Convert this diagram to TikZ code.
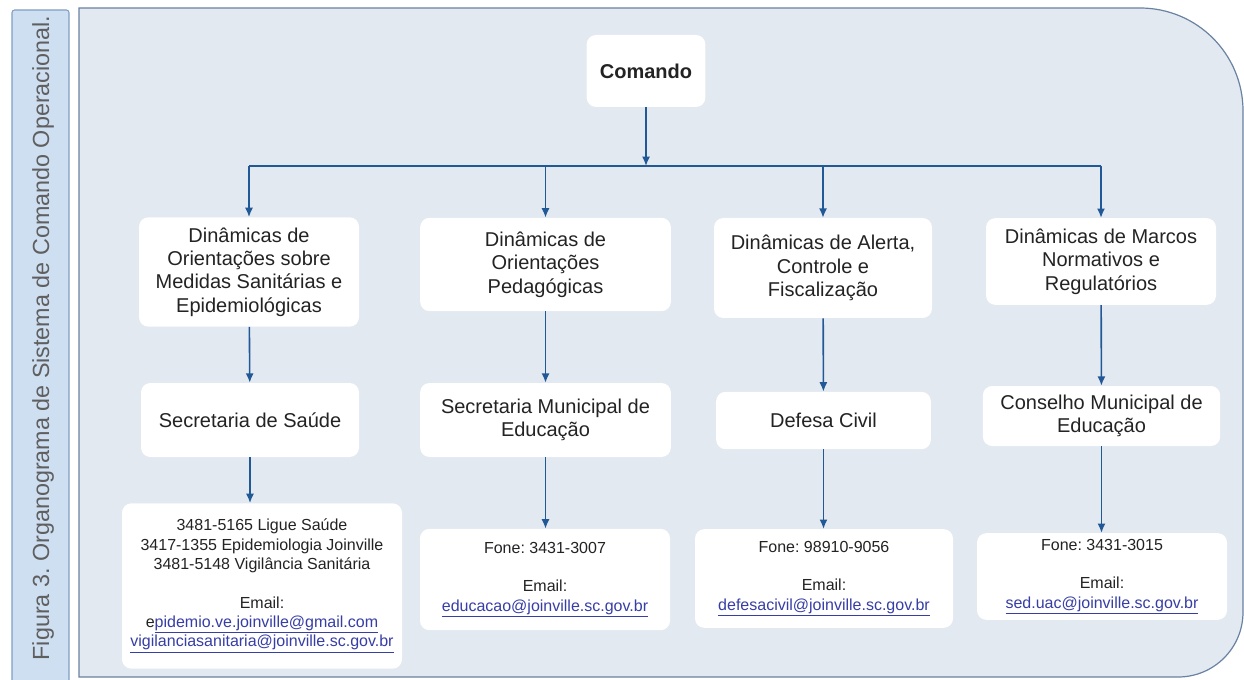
\documentclass[tikz,border=0pt]{standalone}
\usepackage{fontspec}
\setmainfont{Liberation Sans}
\usetikzlibrary{arrows.meta,positioning,calc}

\definecolor{panel}{RGB}{226,233,241}
\definecolor{panelline}{RGB}{105,130,162}
\definecolor{capfill}{RGB}{207,223,242}
\definecolor{capline}{RGB}{128,158,195}
\definecolor{capgray}{RGB}{95,95,95}
\definecolor{flowblue}{RGB}{33,88,150}
\definecolor{txt}{RGB}{35,35,35}
\definecolor{linkblue}{RGB}{55,62,165}
\newcommand{\mail}[1]{\textcolor{linkblue}{\underline{#1}}}
\frenchspacing

\begin{document}
\begin{tikzpicture}[>={Latex[length=7pt,width=6pt]}, x=0.75pt, y=-0.75pt,
  box/.style={fill=white, rounded corners=7pt, align=center, inner sep=0pt,
    text=txt, font=\fontsize{15}{17.5}\selectfont},
  info/.style={box, font=\fontsize{12}{14.5}\selectfont},
  flow/.style={->, draw=flowblue, line width=1.2pt}]
  \useasboundingbox (0,0) rectangle (1244,680);

  % caption strip and panel
  \draw[fill=capfill, draw=capline, line width=0.8pt, rounded corners=2pt] (12,10) rectangle (69,700);
  \node[rotate=90, text=capgray, font=\fontsize{17.5}{20}\selectfont] (cap) at (43,338)
    {Figura 3. Organograma de Sistema de Comando Operacional.};
  \draw[fill=panel, draw=panelline, line width=0.9pt] (79,8) -- (1140,8)
    .. controls (1197,8) and (1243,54) .. (1243,111) -- (1243,612)
    .. controls (1243,648) and (1214,677) .. (1178,677) -- (79,677) -- cycle;

  \node[box, font=\fontsize{15}{17.5}\selectfont\bfseries, minimum width=89pt, minimum height=54pt] (cmd) at (646,71) {Comando};

  \node[box, minimum width=165pt, minimum height=82pt] (d1) at (249,272) {Dinâmicas de\\Orientações sobre\\Medidas Sanitárias e\\Epidemiológicas};
  \node[box, minimum width=188pt, minimum height=70pt] (d2) at (545.5,264.5) {Dinâmicas de\\Orientações\\Pedagógicas};
  \node[box, minimum width=163.5pt, minimum height=75pt] (d3) at (823,268) {Dinâmicas de Alerta,\\Controle e\\Fiscalização};
  \node[box, minimum width=172.5pt, minimum height=65pt] (d4) at (1101,261.5) {Dinâmicas de Marcos\\Normativos e\\Regulatórios};

  \node[box, minimum width=163.5pt, minimum height=55.5pt] (s1) at (250,420) {Secretaria de Saúde};
  \node[box, minimum width=188pt, minimum height=55.5pt] (s2) at (545.5,420) {Secretaria Municipal de\\Educação};
  \node[box, minimum width=161pt, minimum height=43pt] (s3) at (823.5,420.5) {Defesa Civil};
  \node[box, minimum width=178pt, minimum height=45pt] (s4) at (1101.5,416) {Conselho Municipal de\\Educação};

  \node[info, minimum width=210pt, minimum height=124pt] (c1) at (262,586) {3481-5165 Ligue Saúde\\3417-1355 Epidemiologia Joinville\\3481-5148 Vigilância Sanitária\\[14.5pt]Email:\\e\mail{pidemio.ve.joinville@gmail.com}\\\mail{vigilanciasanitaria@joinville.sc.gov.br}};
  \node[info, minimum width=187.5pt, minimum height=76pt] (c2) at (545,579.5) {Fone: 3431-3007\\[14.5pt]Email:\\\mail{educacao@joinville.sc.gov.br}};
  \node[info, minimum width=193.5pt, minimum height=74pt] (c3) at (824,578.5) {Fone: 98910-9056\\[14.5pt]Email:\\\mail{defesacivil@joinville.sc.gov.br}};
  \node[info, minimum width=187.5pt, minimum height=65pt] (c4) at (1102,576.5) {Fone: 3431-3015\\[14.5pt]Email:\\\mail{sed.uac@joinville.sc.gov.br}};

  \coordinate (bus) at (646,166);
  \draw[flow] (cmd) -- (bus);
  \draw[draw=flowblue, line width=1.2pt] (d1 |- bus) -- (d4 |- bus);
  \foreach \i in {1,...,4} {
    \draw[flow] (d\i |- bus) -- (d\i);
    \draw[flow] (d\i) -- (s\i);
    \draw[flow] (s\i) -- (s\i |- c\i.north);
  }
\end{tikzpicture}
\end{document}
